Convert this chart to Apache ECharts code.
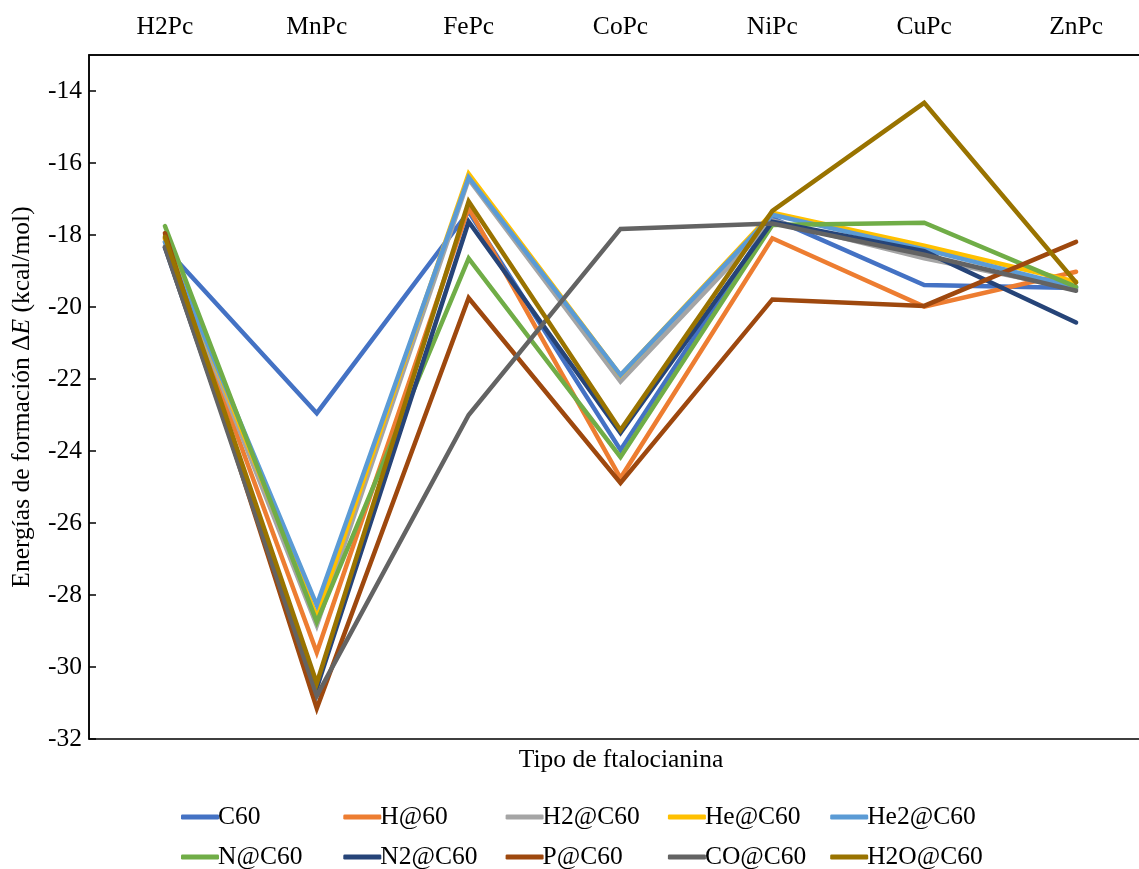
<!DOCTYPE html>
<html>
<head>
<meta charset="utf-8">
<script src="https://cdn.jsdelivr.net/npm/echarts@6/dist/echarts.min.js"></script>
<style>html,body{margin:0;padding:0;background:#fff}#c{width:1139px;height:869px}</style>
</head>
<body>
<div id="c"></div>
<script>
const categories = ['H2Pc','MnPc','FePc','CoPc','NiPc','CuPc','ZnPc'];
const seriesNames = ['C60','H@60','H2@C60','He@C60','He2@C60','N@C60','N2@C60','P@C60','CO@C60','H2O@C60'];
const C60      = [-18.35, -22.95, -17.35, -23.97, -17.53, -19.39, -19.47];
const H_60     = [-18.10, -29.60, -17.25, -24.75, -18.09, -19.99, -19.02];
const H2_C60   = [-18.20, -28.85, -16.45, -22.07, -17.60, -18.65, -19.50];
const He_C60   = [-18.10, -28.60, -16.30, -21.90, -17.38, -18.30, -19.30];
const He2_C60  = [-18.20, -28.28, -16.40, -21.89, -17.44, -18.40, -19.45];
const N_C60    = [-17.75, -28.75, -18.65, -24.17, -17.72, -17.66, -19.44];
const N2_C60   = [-18.35, -30.58, -17.63, -23.50, -17.63, -18.45, -20.43];
const P_C60    = [-17.95, -31.15, -19.75, -24.89, -19.79, -19.97, -18.19];
const CO_C60   = [-18.33, -30.80, -23.00, -17.83, -17.68, -18.55, -19.55];
const H2O_C60  = [-18.05, -30.45, -17.07, -23.42, -17.33, -14.33, -19.32];
const seriesValues = [C60, H_60, H2_C60, He_C60, He2_C60, N_C60, N2_C60, P_C60, CO_C60, H2O_C60];
const colors = ['#4472C4','#ED7D31','#A5A5A5','#FFC000','#5B9BD5','#70AD47','#264478','#9E480E','#636363','#997300'];

const font = 'Liberation Serif';
const fs = 25.5;
const chart = echarts.init(document.getElementById('c'));
const legends = seriesNames.map((n, i) => ({
  orient: 'horizontal',
  left: 176 + (i % 5) * 162.3,
  top: i < 5 ? 799 : 839,
  itemGap: 0, itemWidth: 38, itemHeight: 5, icon: 'roundRect',
  textStyle: { fontFamily: font, fontSize: fs, color: '#000', padding: [0,0,0,-6] },
  data: [n]
}));
chart.setOption({
  animation: false,
  color: colors,
  grid: { left: 89, width: 1063, top: 55, height: 684, outerBoundsMode: 'none', containLabel: false,
          show: true, borderColor: '#000', borderWidth: 1.5, backgroundColor: 'transparent' },
  xAxis: {
    type: 'category', position: 'top', data: categories,
    axisLine: { lineStyle: { color: '#000', width: 1.5 } },
    axisTick: { inside: true, length: 7, lineStyle: { color: '#000', width: 1.5 } },
    axisLabel: { fontFamily: font, fontSize: fs, color: '#000', margin: 15 },
    splitLine: { show: false }
  },
  yAxis: {
    type: 'value', min: -32, max: -13, interval: 2,
    axisLine: { show: true, lineStyle: { color: '#000', width: 1.5 } },
    axisTick: { show: true, inside: true, length: 7, lineStyle: { color: '#000', width: 1.5 } },
    axisLabel: { fontFamily: font, fontSize: fs, color: '#000', margin: 7, showMaxLabel: false },
    splitLine: { show: false },
    name: '{a|Energías de formación Δ}{b|E}{a| (kcal/mol)}',
    nameLocation: 'middle', nameRotate: 90, nameGap: 54,
    nameTextStyle: { rich: {
      a: { fontFamily: font, fontSize: fs, color: '#000' },
      b: { fontFamily: font, fontSize: fs, color: '#000', fontStyle: 'italic' }
    } }
  },
  legend: legends,
  graphic: [{
    type: 'text', x: 621, y: 760,
    style: { text: 'Tipo de ftalocianina', fontFamily: font, fontSize: fs, fill: '#000',
             align: 'center', verticalAlign: 'middle', textAlign: 'center', textVerticalAlign: 'middle' }
  }],
  series: seriesNames.map((n, i) => ({
    name: n, type: 'line', data: seriesValues[i], symbol: 'none',
    lineStyle: { width: 4.5, color: colors[i], cap: 'round', join: 'miter' }
  }))
});
</script>
</body>
</html>
